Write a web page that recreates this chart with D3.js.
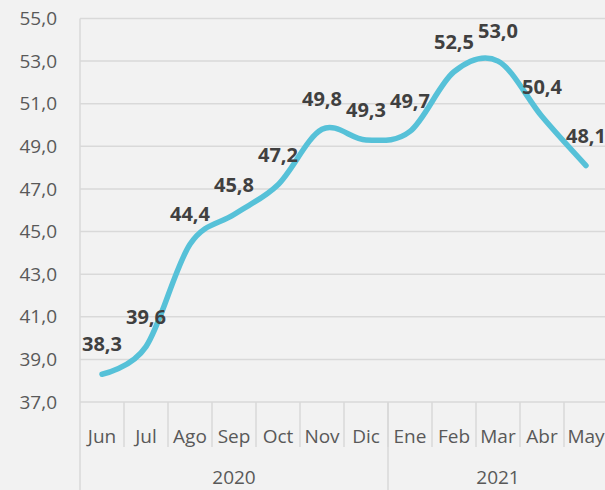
<!DOCTYPE html>
<html>
<head>
<meta charset="utf-8">
<script src="https://cdn.jsdelivr.net/npm/d3@7"></script>
<style>
  html, body { margin: 0; padding: 0; background: #f2f2f2; }
  svg { display: block; font-family: "Open Sans", "Noto Sans", sans-serif; }
</style>
</head>
<body>
<svg id="chart" width="605" height="490"></svg>
<script>
// data
const months = ["Jun", "Jul", "Ago", "Sep", "Oct", "Nov", "Dic", "Ene", "Feb", "Mar", "Abr", "May"];
const years = [
  { label: "2020", from: 0, to: 7 },
  { label: "2021", from: 7, to: 12 }
];
const values = [38.3, 39.6, 44.4, 45.8, 47.2, 49.8, 49.3, 49.7, 52.5, 53.0, 50.4, 48.1];
const yTicks = [37, 39, 41, 43, 45, 47, 49, 51, 53, 55];

const svg = d3.select("#chart");
const W = 605, H = 490;
const plotLeft = 80, plotRight = 608, plotTop = 18.5, plotBottom = 402;

svg.append("rect").attr("width", W).attr("height", H).attr("fill", "#f2f2f2");

const x = d3.scaleBand().domain(months).range([plotLeft, plotRight]).padding(0);
const y = d3.scaleLinear().domain([37, 55]).range([plotBottom, plotTop]);
const fmt = v => d3.format(".1f")(v).replace(".", ",");

// gridlines
svg.append("g").selectAll("line")
  .data(yTicks)
  .join("line")
  .attr("x1", plotLeft).attr("x2", W)
  .attr("y1", d => y(d)).attr("y2", d => y(d))
  .attr("stroke", "#d9d9d9").attr("stroke-width", 1.5);

// y axis labels
const yAxis = d3.axisLeft(y).tickValues(yTicks).tickFormat(fmt).tickSize(0).tickPadding(23);
const ya = svg.append("g").attr("transform", `translate(${plotLeft},0)`).call(yAxis);
ya.select(".domain").remove();
ya.selectAll("text")
  .attr("fill", "#595959")
  .style("font-size", "19px")
  .style("font-family", "'Open Sans', 'Noto Sans', sans-serif");

// left axis line
svg.append("line")
  .attr("x1", plotLeft).attr("x2", plotLeft).attr("y1", plotTop).attr("y2", H)
  .attr("stroke", "#d9d9d9").attr("stroke-width", 1.5);

// month separators
svg.selectAll("line.msep")
  .data(months.slice(1))
  .join("line")
  .attr("class", "msep")
  .attr("x1", d => x(d)).attr("x2", d => x(d))
  .attr("y1", plotBottom).attr("y2", 447)
  .attr("stroke", "#d9d9d9").attr("stroke-width", 1.5);

// year separators
svg.selectAll("line.ysep")
  .data(years.slice(1))
  .join("line")
  .attr("class", "ysep")
  .attr("x1", d => x(months[d.from])).attr("x2", d => x(months[d.from]))
  .attr("y1", plotBottom).attr("y2", H)
  .attr("stroke", "#d9d9d9").attr("stroke-width", 1.5);

// month labels
svg.selectAll("text.month")
  .data(months)
  .join("text")
  .attr("class", "month")
  .attr("x", d => x(d) + x.bandwidth() / 2)
  .attr("y", 443)
  .attr("text-anchor", "middle")
  .attr("fill", "#595959")
  .style("font-size", "19px")
  .text(d => d);

// year labels
svg.selectAll("text.year")
  .data(years)
  .join("text")
  .attr("class", "year")
  .attr("x", d => (x(months[d.from]) + (d.to < months.length ? x(months[d.to]) : plotRight)) / 2)
  .attr("y", 484)
  .attr("text-anchor", "middle")
  .attr("fill", "#595959")
  .style("font-size", "19px")
  .text(d => d.label);

// line
const line = d3.line()
  .x((d, i) => x(months[i]) + x.bandwidth() / 2)
  .y(d => y(d))
  .curve(d3.curveCatmullRom.alpha(0));

svg.append("path")
  .datum(values)
  .attr("d", line)
  .attr("fill", "none")
  .attr("stroke", "#56c1d8")
  .attr("stroke-width", 5.5)
  .attr("stroke-linecap", "round");

// data labels
svg.selectAll("text.lbl")
  .data(values)
  .join("text")
  .attr("class", "lbl")
  .attr("x", (d, i) => x(months[i]) + x.bandwidth() / 2)
  .attr("y", d => y(d) - 23)
  .attr("text-anchor", "middle")
  .attr("fill", "#404040")
  .style("font-size", "20px")
  .style("font-weight", "bold")
  .text(d => fmt(d));
</script>
</body>
</html>
